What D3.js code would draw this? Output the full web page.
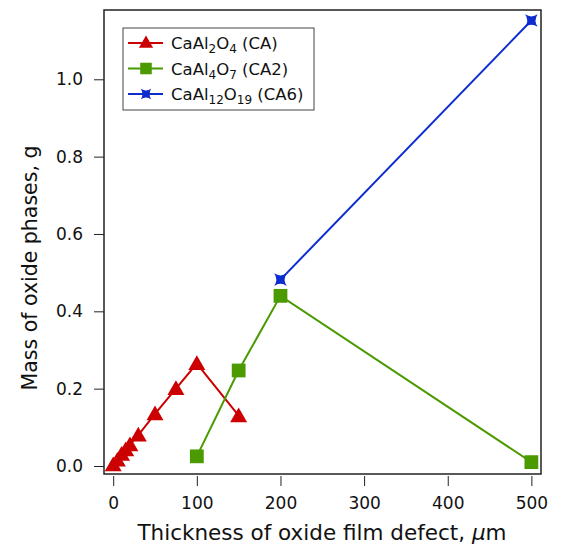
<!DOCTYPE html>
<html>
<head>
<meta charset="utf-8">
<script src="https://cdn.jsdelivr.net/npm/d3@7"></script>
<style>
  body { margin: 0; background: #fff; }
  text { font-family: "DejaVu Sans", sans-serif; fill: #111; }
</style>
</head>
<body>
<svg width="561" height="548"></svg>
<script>
    // data
    const caX = [0, 5, 10, 15, 20, 30, 50, 75, 100, 150];
    const caY = [0.003, 0.015, 0.03, 0.042, 0.055, 0.08, 0.135, 0.2, 0.265, 0.13];
    const ca2X = [100, 150, 200, 500];
    const ca2Y = [0.025, 0.247, 0.44, 0.01];
    const ca6X = [200, 500];
    const ca6Y = [0.482, 1.152];
    const xTicks = [0, 100, 200, 300, 400, 500];
    const yTicks = [0, 0.2, 0.4, 0.6, 0.8, 1.0];

    const svg = d3.select("svg"),
          margin = {top: 10, right: 20, bottom: 74, left: 104},
          width = 561 - margin.left - margin.right,
          height = 548 - margin.top - margin.bottom;

    const g = svg.append("g").attr("transform", `translate(${margin.left},${margin.top})`);

    const x = d3.scaleLinear().domain([-11, 511.5]).range([0, width]);
    const y = d3.scaleLinear().domain([-0.0207, 1.1792]).range([height, 0]);

    // 4 pointed star for CA6
    const star4 = {
      draw(ctx, size) {
        const r = Math.sqrt(size) * 0.75, k = r * 0.32;
        ctx.moveTo(-r, -r);
        ctx.quadraticCurveTo(0, -k, r, -r);
        ctx.quadraticCurveTo(k, 0, r, r);
        ctx.quadraticCurveTo(0, k, -r, r);
        ctx.quadraticCurveTo(-k, 0, -r, -r);
        ctx.closePath();
      }
    };

    const series = [
      {name: ["CaAl", "2", "O", "4", " (CA)"], xs: caX, ys: caY, color: "#cc0000", sym: d3.symbolTriangle, size: 125, dy: 1.5},
      {name: ["CaAl", "4", "O", "7", " (CA2)"], xs: ca2X, ys: ca2Y, color: "#4a9a00", sym: d3.symbolSquare, size: 190, dy: 0},
      {name: ["CaAl", "12", "O", "19", " (CA6)"], xs: ca6X, ys: ca6Y, color: "#0c2cd0", sym: star4, size: 70, dy: 0}
    ];

    // axes: x ticks offset below the frame, y ticks on the frame
    const xAxis = g.append("g")
      .attr("transform", `translate(0,${height + 2})`)
      .call(d3.axisBottom(x).tickValues(xTicks).tickSize(10).tickPadding(11).tickFormat(d3.format("d")));
    const yAxis = g.append("g")
      .call(d3.axisLeft(y).tickValues(yTicks).tickSize(10).tickPadding(11).tickFormat(d3.format(".1f")));
    [xAxis, yAxis].forEach(a => {
      a.select(".domain").remove();
      a.selectAll("line").attr("stroke", "#222").attr("stroke-width", 1);
      a.selectAll("text").style("font-size", "17px").attr("fill", "#111")
        .style("font-family", "DejaVu Sans, sans-serif");
    });

    // lines + markers
    series.forEach(s => {
      const pts = s.xs.map((v, i) => [v, s.ys[i]]);
      g.append("path")
        .datum(pts)
        .attr("fill", "none")
        .attr("stroke", s.color)
        .attr("stroke-width", 2)
        .attr("d", d3.line().x(d => x(d[0])).y(d => y(d[1])));
      g.selectAll(null)
        .data(pts)
        .enter().append("path")
        .attr("transform", d => `translate(${x(d[0])},${y(d[1]) + s.dy})`)
        .attr("d", d3.symbol(s.sym, s.size))
        .attr("fill", s.color);
    });

    // frame
    g.append("rect")
      .attr("width", width)
      .attr("height", height)
      .attr("fill", "none")
      .attr("stroke", "#222")
      .attr("stroke-width", 1.5);

    // legend
    const lg = svg.append("g").attr("transform", "translate(123,28)");
    lg.append("rect")
      .attr("width", 191).attr("height", 82)
      .attr("fill", "#fff").attr("stroke", "#444").attr("stroke-width", 1);
    series.forEach((s, i) => {
      const row = lg.append("g").attr("transform", `translate(0,${15 + i * 25.5})`);
      row.append("line").attr("x1", 5).attr("x2", 40)
        .attr("stroke", s.color).attr("stroke-width", 2);
      row.append("path")
        .attr("transform", `translate(23,${s.dy * 0.5})`)
        .attr("d", d3.symbol(s.sym, s.size * 0.7))
        .attr("fill", s.color);
      const t = row.append("text").attr("x", 48).attr("y", 6)
        .style("font-size", "16.5px");
      s.name.forEach((part, j) => {
        const ts = t.append("tspan").text(part);
        if (j % 2 === 1) ts.attr("dy", 4).style("font-size", "12px");
        else if (j > 0) ts.attr("dy", -4);
      });
    });

    // axis titles
    svg.append("text")
      .attr("x", 322)
      .attr("y", 540)
      .attr("text-anchor", "middle")
      .style("font-size", "21.5px")
      .html("Thickness of oxide film defect, <tspan font-style='italic'>µ</tspan>m");

    svg.append("text")
      .attr("transform", "rotate(-90)")
      .attr("x", -268)
      .attr("y", 37)
      .attr("text-anchor", "middle")
      .style("font-size", "20.5px")
      .text("Mass of oxide phases, g");
</script>
</body>
</html>
